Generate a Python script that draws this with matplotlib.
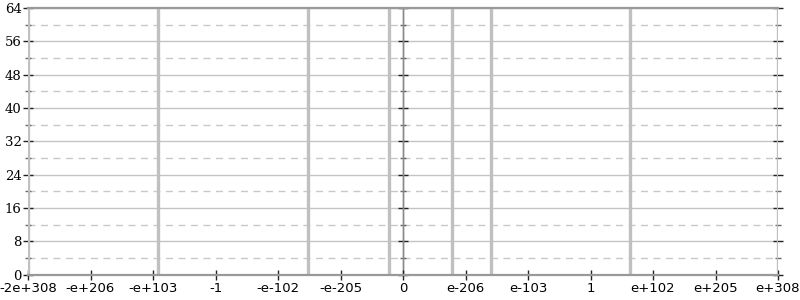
import numpy as np
import matplotlib
matplotlib.use("Agg")
import matplotlib.pyplot as plt
from matplotlib.ticker import FixedLocator, FixedFormatter

# float axis: positions follow the bit pattern of the float (ordered float scale)
FMAX = np.finfo(np.float64).max

# bar positions (float values) and heights
bar_values = [-FMAX, -1e95, -5e-153, -5e-286, 1.3e-227, 5e-164, 3.5e65, FMAX]
bar_counts = [64, 64, 64, 64, 64, 64, 64, 64]

x_tick_labels = ["-2e+308", "-e+206", "-e+103", "-1", "-e-102", "-e-205", "0",
                 "e-206", "e-103", "1", "e+102", "e+205", "e+308"]
y_major = [0, 8, 16, 24, 32, 40, 48, 56, 64]
y_minor = [4, 12, 20, 28, 36, 44, 52, 60]


def to_bits(a):
    a = np.array(a, dtype=float, ndmin=1)
    m = np.ascontiguousarray(np.abs(a)).view(np.int64).astype(float)
    return np.copysign(m, a)


def from_bits(b):
    b = np.array(b, dtype=float, ndmin=1)
    m = np.nan_to_num(np.abs(b), nan=0.0)
    m = np.clip(m, 0, 9.2e18).astype(np.int64)
    v = np.ascontiguousarray(m).view(np.float64)
    return np.copysign(v, b)


maxbits = to_bits(FMAX)[0]
x_ticks = from_bits(np.arange(-6, 7) / 6 * maxbits)
x_ticks[-1] = FMAX
x_ticks[0] = -FMAX

fig = plt.figure(figsize=(8, 3), dpi=100)
ax = fig.add_axes([0.035, 0.085, 0.9375, 0.888])

ax.set_xscale("function", functions=(to_bits, from_bits))
ax.set_xlim(-FMAX, FMAX)
ax.set_ylim(0, 64)

# grid
for y in y_major:
    ax.axhline(y, color="#c4c4c4", lw=1, zorder=0)
for y in y_minor:
    ax.axhline(y, color="#c8c8c8", lw=1, ls=(0, (5, 4)), zorder=0)

ax.vlines(bar_values, 0, bar_counts, color="#c0c0c0", lw=2.4, zorder=2)

ax.xaxis.set_major_locator(FixedLocator(x_ticks))
ax.xaxis.set_major_formatter(FixedFormatter(x_tick_labels))
ax.set_yticks(y_major)
ax.set_yticks(y_minor, minor=True)

for s in ["left", "right"]:
    ax.spines[s].set_visible(False)
for s in ["top", "bottom"]:
    ax.spines[s].set_color("#999999")
    ax.spines[s].set_linewidth(1.6)
    ax.spines[s].set_zorder(3)

ax.tick_params(axis="x", direction="inout", length=7, width=1, color="#222222",
               labelsize=9.5, pad=2)
ax.tick_params(axis="y", which="major", direction="inout", length=7, width=1,
               color="#222222", labelsize=9.5, pad=1,
               labelfontfamily="DejaVu Serif")
ax.tick_params(axis="y", which="minor", direction="inout", length=4, width=1,
               color="#666666")

# extra y axes at zero and at the right edge
for loc, show_spine in [(0.5, True), (1.0, False)]:
    sec = ax.secondary_yaxis(loc)
    sec.set_yticks(y_major)
    sec.set_yticks(y_minor, minor=True)
    sec.tick_params(which="major", direction="inout", length=7, width=1,
                    color="#222222", labelleft=False, labelright=False)
    sec.tick_params(which="minor", direction="inout", length=4, width=1,
                    color="#666666")
    for k in ["left", "right", "top", "bottom"]:
        sec.spines[k].set_visible(False)
    if show_spine:
        for k in ["left", "right"]:
            sec.spines[k].set_visible(True)
            sec.spines[k].set_color("#888888")
            sec.spines[k].set_linewidth(1)

fig.savefig("out.png", dpi=100)
